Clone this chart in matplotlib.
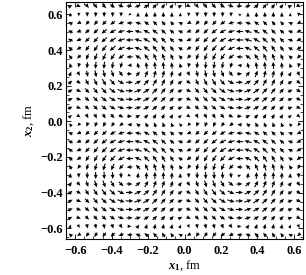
import numpy as np
import matplotlib.pyplot as plt
from matplotlib.ticker import MultipleLocator

plt.rcParams['font.family'] = ['Liberation Serif', 'DejaVu Serif']
plt.rcParams['font.weight'] = 'bold'
plt.rcParams['mathtext.fontset'] = 'custom'
plt.rcParams['mathtext.rm'] = 'Liberation Serif:bold'
plt.rcParams['mathtext.it'] = 'Liberation Serif:italic:bold'

# --- data ---
# vortex lattice: strong counter-clockwise cores at (+-0.3, +-0.3) fm,
# weaker clockwise cells in between
cell = 0.6            # fm, spacing of the vortex lattice
cw_weight = -0.5      # how much weaker the clockwise cells are
n_points = 28         # arrows per row / column
x_range = (-0.65, 0.65)
y_range = (-0.66, 0.67)
major_ticks = [-0.6, -0.4, -0.2, 0.0, 0.2, 0.4, 0.6]

# --- sample the field ---
step = (x_range[1] - x_range[0]) / n_points
xs = np.linspace(x_range[0] + step / 2, x_range[1] - step / 2, n_points)
ys = np.linspace(y_range[0] + step / 2, y_range[1] - step / 2, n_points)
X, Y = np.meshgrid(xs, ys)
k = 2 * np.pi / cell
U = np.sin(k * Y) * (1 + cw_weight * np.cos(k * X))
V = -np.sin(k * X) * (1 + cw_weight * np.cos(k * Y))

mag = np.hypot(U, V)
mag[mag == 0] = 1
# arrow length grows with the field strength, but stays visible
L = 0.042 * (0.35 + 0.65 * (mag / mag.max()) ** 0.6)
U = U / mag * L
V = V / mag * L

fig = plt.figure(figsize=(3.06, 2.75), dpi=100)
ax = fig.add_axes([0.216, 0.131, 0.774, 0.862])

ax.quiver(X, Y, U, V, pivot='middle', angles='xy', scale_units='xy', scale=1,
          units='dots', width=1.1, headwidth=3.6, headlength=4.0,
          headaxislength=3.6, color='black')

ax.set_xlim(*x_range)
ax.set_ylim(*y_range)
ax.set_xticks(major_ticks)
ax.set_yticks(major_ticks)
ax.xaxis.set_minor_locator(MultipleLocator(0.05))
ax.yaxis.set_minor_locator(MultipleLocator(0.05))
ax.tick_params(which='both', direction='in', top=True, right=True, labelsize=9, pad=2.5)
ax.tick_params(axis='x', which='major', pad=4)
ax.tick_params(which='major', length=3.5, width=0.6)
ax.tick_params(which='minor', length=2, width=0.5)
for s in ax.spines.values():
    s.set_linewidth(0.8)

ax.set_xlabel(r'$x_1$, fm', fontsize=9, labelpad=1.5)
ax.set_ylabel(r'$x_2$, fm', fontsize=9, labelpad=3)

fig.savefig('out.png', dpi=100)
